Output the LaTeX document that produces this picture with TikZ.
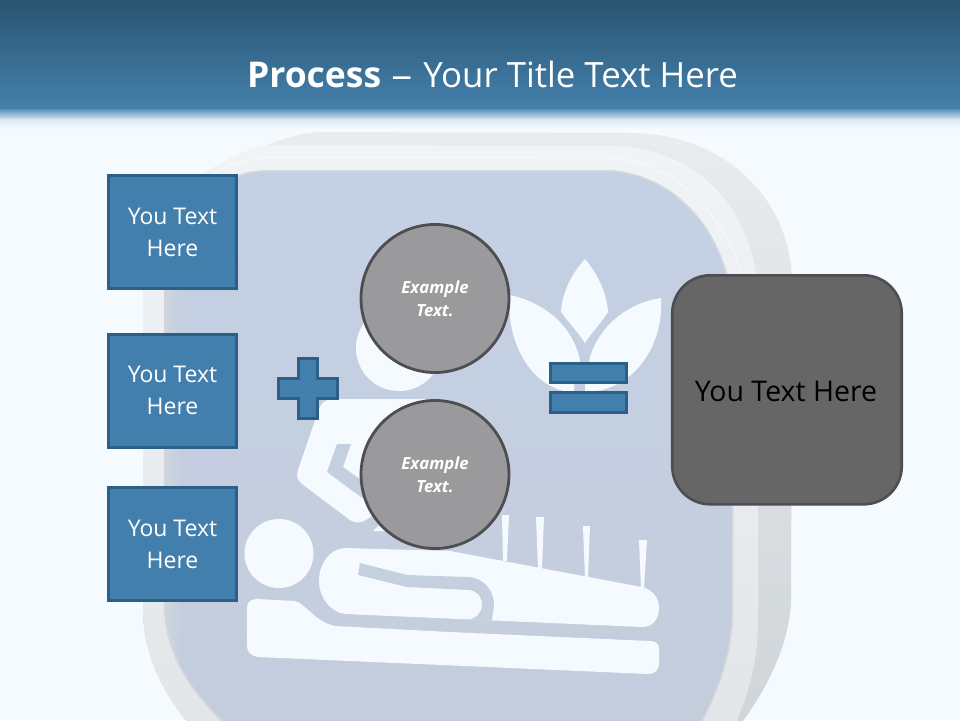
\documentclass[tikz,border=0pt]{standalone}
\usepackage{fontspec}
\setmainfont{Open Sans}
\definecolor{bgc}{HTML}{F5FAFE}
\definecolor{hdrtop}{HTML}{2A5470}
\definecolor{hdrbot}{HTML}{4480AC}
\definecolor{boxfill}{HTML}{437FAC}
\definecolor{boxline}{HTML}{2C5F85}
\definecolor{circfill}{HTML}{9A999B}
\definecolor{darkline}{HTML}{4D4D52}
\definecolor{bigfill}{HTML}{666666}
\definecolor{panelA}{HTML}{C4D0E4}
\definecolor{panelB}{HTML}{C4CDDC}
\definecolor{panelM}{HTML}{C4CFE0}
\definecolor{outerA}{HTML}{E8ECEF}
\definecolor{outerB}{HTML}{D0D5D9}
\definecolor{midA}{HTML}{F1F4F6}
\definecolor{midB}{HTML}{E2E6E9}
\definecolor{edgeC}{HTML}{D3D7DB}
\tikzset{
  txtbox/.style={rectangle,draw=boxline,fill=boxfill,line width=2.6pt,minimum width=128pt,minimum height=113pt,inner sep=0pt,outer sep=0pt,text=white,align=center,font=\fontsize{23}{32}\selectfont},
  opshape/.style={draw=boxline,fill=boxfill,line width=2.6pt,line join=miter},
  excirc/.style={circle,draw=darkline,fill=circfill,line width=2.8pt,minimum size=148pt,inner sep=0pt,outer sep=0pt,text=white,align=center,font=\fontsize{16.7}{23}\selectfont\bfseries\itshape},
  resultbox/.style={rectangle,rounded corners=38pt,draw=darkline,fill=bigfill,line width=2.6pt,minimum width=229.5pt,minimum height=229pt,inner sep=0pt,outer sep=0pt},
  glyph/.style={fill=bgc,draw=none},
  gap/.style={fill=panelM,draw=none},
  hl/.style={draw=white,opacity=.55,line width=1pt},
  panelp/.style={insert path={
    (164,300) .. controls (164,250) and (195,190) .. (240,175)
    .. controls (250,171) and (260,170) .. (280,170)
    -- (605,170) .. controls (680,172) and (733,240) .. (733,320)
    -- (733,610) .. controls (733,650) and (720,690) .. (700,725)
    -- (225,725) .. controls (195,695) and (164,660) .. (164,600) -- cycle}}
}
\begin{document}
\begin{tikzpicture}[x=1pt,y=-1pt]
\useasboundingbox (0,0) rectangle (960,720);
\clip (0,0) rectangle (960,720);
\fill[bgc] (0,0) rectangle (960,720);
% shell: outer band
\shade[top color=outerA,bottom color=outerB]
  (143,300) .. controls (143,240) and (175,190) .. (205,173)
  .. controls (225,160) and (245,150) .. (267,145)
  .. controls (285,138) and (300,133) .. (320,132)
  -- (630,133) .. controls (720,133) and (792,195) .. (792,285)
  -- (791,600) .. controls (790,640) and (770,685) .. (740,725)
  -- (190,725) .. controls (160,690) and (143,650) .. (143,610) -- cycle;
% shell: middle band
\shade[top color=midA,bottom color=midB]
  (143,300) .. controls (143,240) and (175,190) .. (205,173)
  .. controls (225,160) and (245,150) .. (267,145)
  -- (610,146) .. controls (700,146) and (758,215) .. (758,300)
  -- (758,620) .. controls (758,660) and (750,690) .. (735,725)
  -- (190,725) .. controls (160,690) and (143,650) .. (143,610) -- cycle;
\draw[hl] (215,172) .. controls (235,162) and (255,157) .. (290,157) -- (610,158)
  .. controls (670,160) and (725,210) .. (745,285);
% panel
\shade[top color=panelA,bottom color=panelB,panelp];
\begin{scope}
  \clip[panelp];
  \shade[left color=edgeC,right color=panelM] (160,170) rectangle (180,725);
  \draw[edgeC,line width=3pt,panelp];
\end{scope}
% header
\shade[top color=hdrbot,bottom color=hdrbot!55!bgc] (0,107) rectangle (960,114);
\shade[top color=hdrbot!55!bgc,bottom color=hdrbot!14!bgc] (0,113.7) rectangle (960,120);
\shade[top color=hdrbot!14!bgc,bottom color=bgc] (0,119.7) rectangle (960,129);
\shade[top color=hdrtop,bottom color=hdrbot] (0,0) rectangle (960,108);
% leaves
\fill[glyph] (585,259) .. controls (572,273) and (562,293) .. (561,312)
  .. controls (568,322) and (578,332) .. (585,343)
  .. controls (592,332) and (602,322) .. (608,312)
  .. controls (607,293) and (597,273) .. (585,259) -- cycle;
\fill[glyph] (510,295) .. controls (545,303) and (572,325) .. (580,360)
  -- (574,385) -- (574,392) .. controls (535,392) and (505,345) .. (510,295) -- cycle;
\fill[glyph] (661,298) .. controls (628,303) and (600,325) .. (590,357)
  -- (585,385) -- (585,392) .. controls (630,392) and (664,350) .. (661,298) -- cycle;
% therapist
\fill[glyph] (399,348) circle[radius=43];
\fill[glyph] (333,399) -- (425,399) -- (425,480) -- (369,518)
  .. controls (362,523) and (356,524) .. (350,520)
  -- (302,484) .. controls (297,480) and (296,476) .. (298,470)
  -- (319,409) .. controls (321,403) and (326,399) .. (333,399) -- cycle;
\fill[gap] (337,444) -- (351,444) -- (343,467) -- (375,490) -- (365,500) -- (327,472) -- cycle;
\fill[glyph] (373,531) -- (395,531) -- (385,519) -- cycle;
% patient
\fill[glyph] (279,553.5) circle[radius=34.5];
\fill[glyph] (345,548) -- (450,551) -- (642,587)
  .. controls (653,590) and (659,598) .. (659,608)
  .. controls (659,620) and (652,627) .. (642,627)
  -- (345,614) .. controls (330,612) and (319,597) .. (319,581)
  .. controls (319,563) and (330,549) .. (345,548) -- cycle;
\fill[gap] (360,563) -- (407,575) -- (467,577)
  .. controls (483,577) and (494,590) .. (494,605) -- (492,620.5) -- (467,619.5)
  .. controls (476,619) and (482,613) .. (482,605)
  .. controls (482,596) and (476,590) .. (468,590)
  -- (407,587) -- (358,575) -- cycle;
\fill[glyph] (502,515) -- (509,515) -- (507,561) -- (503,561) -- cycle;
\fill[glyph] (536,517) -- (544,517) -- (542,568) -- (538,568) -- cycle;
\fill[glyph] (583,526) -- (590,526) -- (588,578) -- (585,578) -- cycle;
\fill[glyph] (639,540) -- (647,540) -- (644,588) -- (641,588) -- cycle;
\fill[glyph] (257,599) -- (295,601) .. controls (305,603) and (315,622) .. (335,626)
  -- (450,632) -- (650,641) .. controls (656,641) and (659,644) .. (659,648)
  -- (659,664) .. controls (659,670) and (655,674) .. (648,674)
  -- (258,657) .. controls (251,656) and (247,652) .. (247,646)
  -- (247,608) .. controls (247,602) and (251,599) .. (257,599) -- cycle;
% header title
\node[anchor=base,text=white,inner sep=0pt,font=\fontsize{35.5}{42}\selectfont] (title) at (492.5,87.7)
  {\textbf{Process} {\fontsize{34.8}{42}\selectfont\hspace{1pt}\scalebox{1.2}[1]{–}\hspace{2pt} Your Title Text Here}};
% text boxes
\node[txtbox] (box1) at (172.5,232) {You Text\\Here};
\node[txtbox] (box2) at (172.5,390.7) {You Text\\Here};
\node[txtbox] (box3) at (172.5,544) {You Text\\Here};
% circles
\node[excirc] (circ1) at (435,298.5) {Example\\Text.};
\node[excirc] (circ2) at (435,474.5) {Example\\Text.};
% plus
\draw[opshape] (298.3,358.3) -- (317.7,358.3) -- (317.7,378.3) -- (337.7,378.3) -- (337.7,398.7)
  -- (317.7,398.7) -- (317.7,418.7) -- (298.3,418.7) -- (298.3,398.7) -- (278.3,398.7)
  -- (278.3,378.3) -- (298.3,378.3) -- cycle;
% equals
\draw[opshape] (550.3,363.3) rectangle (626.7,382.7);
\draw[opshape] (550.3,392.3) rectangle (626.7,412.7);
% result
\node[resultbox] (result) at (787,389.8) {};
\node[anchor=base,text=black,inner sep=0pt,font=\fontsize{28.5}{32}\selectfont] (resulttext) at (786,401) {You Text Here};
\end{tikzpicture}
\end{document}
